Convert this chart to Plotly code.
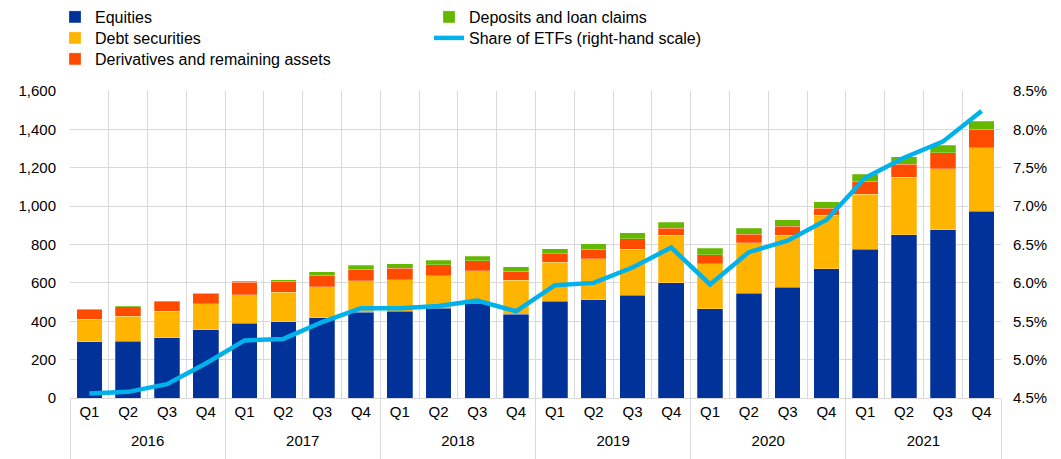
import plotly.graph_objects as go

years = ["2016", "2017", "2018", "2019", "2020", "2021"]
quarters = ["Q1", "Q2", "Q3", "Q4"]

equities = [294, 296, 315, 355, 390, 397, 419, 447, 451, 468, 494, 437,
            504, 511, 536, 600, 466, 546, 577, 673, 776, 850, 877, 974]
debt_securities = [116, 130, 137, 137, 149, 154, 160, 165, 165, 170, 170, 177,
                   204, 216, 238, 247, 233, 263, 270, 280, 287, 301, 318, 330]
derivatives = [53, 49, 49, 51, 64, 58, 61, 59, 61, 56, 51, 47,
               43, 49, 56, 38, 47, 45, 49, 37, 67, 68, 82, 96]
deposits = [3, 5, 7, 3, 6, 8, 19, 21, 22, 23, 24, 24,
            28, 27, 31, 30, 35, 31, 33, 33, 35, 38, 40, 43]
etf_share = [4.56, 4.58, 4.68, 4.95, 5.25, 5.27, 5.49, 5.67, 5.67, 5.70, 5.77, 5.63,
             5.97, 6.00, 6.20, 6.46, 5.98, 6.40, 6.55, 6.82, 7.37, 7.63, 7.84, 8.24]

left_ticks = [0, 200, 400, 600, 800, 1000, 1200, 1400, 1600]
right_ticks = [4.5, 5.0, 5.5, 6.0, 6.5, 7.0, 7.5, 8.0, 8.5]
right_labels = ["4.5%", "5.0%", "5.5%", "6.0%", "6.5%", "7.0%", "7.5%", "8.0%", "8.5%"]

# derived axis helpers (index positions of the categories)
n = len(equities)
nq = len(quarters)
idx = list(range(n))
quarter_text = [quarters[i % nq] for i in idx]
cat_bounds = [i - 0.5 for i in range(n + 1)]
year_centers = [k * nq + (nq - 1) / 2 for k in range(len(years))]
year_bounds = [k * nq - 0.5 for k in range(len(years) + 1)]

FONT = "Liberation Sans, Arial, sans-serif"
GRID = "#d9d9d9"

# page has an 8px body margin -> figure slightly smaller, margins shifted
W, H = 1053, 451
PL, PR, PT, PB = 70, 1001, 91, 398  # plot area in page pixels
OFF = 8
ml, mt = PL - OFF, PT - OFF
mr, mb = W - (PR - OFF), H - (PB - OFF)
ph = PB - PT
pw = PR - PL


def py(y_page):
    return (PB - y_page) / ph


def px(x_page):
    return (x_page - PL) / pw


fig = go.Figure()
bar_specs = [
    ("Equities", equities, "#003299", "legend", 17, 95),
    ("Debt securities", debt_securities, "#ffb400", "legend2", 38, 95),
    ("Derivatives and remaining assets", derivatives, "#ff4b00", "legend3", 59, 95),
    ("Deposits and loan claims", deposits, "#65b800", "legend4", 17, 469),
]
legends = {}
for name, vals, col, lg, ly, lx in bar_specs:
    fig.add_trace(go.Bar(
        x=idx, y=vals, name=name, marker_color=col,
        marker_line_width=0.5, marker_line_color="rgba(255,255,255,0.5)",
        legend=lg,
    ))
    legends[lg] = (ly, lx)

fig.add_trace(go.Scatter(
    x=idx, y=etf_share, name="Share of ETFs (right-hand scale)", mode="lines",
    line=dict(color="#00b1ea", width=4.5), xaxis="x2", yaxis="y2", legend="legend5",
))
legends["legend5"] = (38, 469)

legend_layout = {}
for lg, (ly, lx) in legends.items():
    legend_layout[lg] = dict(
        x=px(lx - 40), y=py(ly), xanchor="left", yanchor="middle",
        orientation="v", font=dict(size=16), bgcolor="rgba(0,0,0,0)",
        itemwidth=30,
    )

fig.update_layout(
    width=W, height=H,
    margin=dict(l=ml, r=mr, t=mt, b=mb, autoexpand=False),
    paper_bgcolor="white", plot_bgcolor="white",
    barmode="stack", bargap=0.34,
    font=dict(family=FONT, size=15, color="#000000"),
    showlegend=True,
    **legend_layout,
    xaxis=dict(
        range=[-0.5, n - 0.5], tickvals=idx, ticktext=quarter_text,
        showgrid=False, zeroline=False,
        showline=True, linecolor=GRID, linewidth=1, ticks="",
        minor=dict(tickvals=cat_bounds, showgrid=True, gridcolor=GRID,
                   gridwidth=1, ticks=""),
        tickfont=dict(size=15),
    ),
    xaxis2=dict(
        overlaying="x", anchor="y2", side="bottom",
        range=[-0.5, n - 0.5], tickvals=year_centers, ticktext=years,
        showgrid=False, zeroline=False, showline=False, ticks="",
        ticklabelstandoff=32,
        minor=dict(tickvals=year_bounds, ticks="outside", ticklen=62,
                   tickcolor=GRID, tickwidth=1, showgrid=False),
        tickfont=dict(size=15),
    ),
    yaxis=dict(
        range=[0, 1600], tickvals=left_ticks, tickformat=",",
        showgrid=True, gridcolor=GRID, gridwidth=1,
        zeroline=False, showline=False, ticks="",
        ticklabelstandoff=13,
        tickfont=dict(size=15),
    ),
    yaxis2=dict(
        range=[4.5, 8.5], tickvals=right_ticks, ticktext=right_labels,
        overlaying="y", anchor="x2", side="right", showgrid=False, zeroline=False,
        showline=False, ticks="", ticklabelstandoff=11,
        tickfont=dict(size=15),
    ),
)

fig.write_html("out.html")
